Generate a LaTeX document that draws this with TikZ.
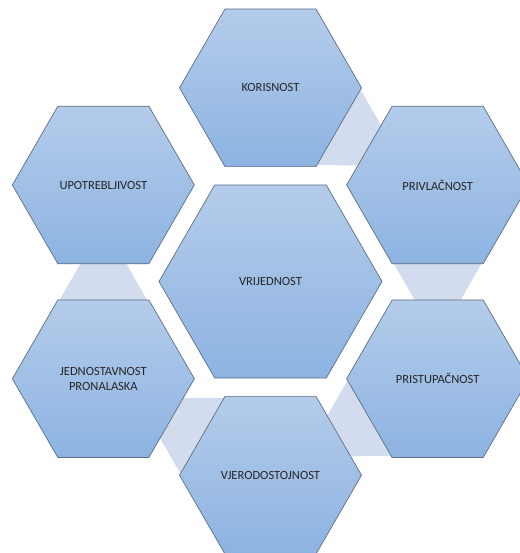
\documentclass[tikz,border=0pt]{standalone}
\usepackage{fontspec}
\setmainfont{Carlito}
\usetikzlibrary{shapes.geometric}
\usetikzlibrary{positioning}
\usetikzlibrary{calc}
\usetikzlibrary{backgrounds}

\definecolor{hexline}{HTML}{5E6F82}
\definecolor{hextop}{HTML}{B4CCEA}
\definecolor{hexbottom}{HTML}{8DB3E2}
\definecolor{linkfill}{HTML}{D2DCEE}

\tikzset{
  hexa/.style={regular polygon, regular polygon sides=6, minimum size=182pt,
    inner sep=0pt, draw=hexline, line width=0.7pt,
    top color=hextop, bottom color=hexbottom,
    align=center, text=black!85, font=\fontsize{12.5}{14.5}\selectfont},
  bighexa/.style={hexa, minimum size=223pt},
  link/.style={fill=linkfill, draw=none},
}

\begin{document}
\begin{tikzpicture}
    \useasboundingbox (0,0) rectangle (519pt,-553pt);

    \node[bighexa] (val) at (270.5pt,-281.5pt) {VRIJEDNOST};
    \node[hexa, above=17.6pt of val] (kor) {KORISNOST};
    \node[hexa, below=17.6pt of val] (vjer) {VJERODOSTOJNOST};
    \node[hexa] (priv) at ($(val)+(30:193pt)$) {PRIVLAČNOST};
    \node[hexa, below=35.4pt of priv] (prist) {PRISTUPAČNOST};
    \node[hexa] (upot) at ($(val)+(150:193pt)$) {UPOTREBLJIVOST};
    \node[hexa, below=35.4pt of upot] (jedn) {JEDNOSTAVNOST\\PRONALASKA};

    % light wedges between neighbours
    \begin{scope}[on background layer]
      \foreach \src/\tgt in {kor/priv, priv/prist, prist/vjer, vjer/jedn, jedn/upot}
        \fill[link] ($(\src)!89pt!90:(\tgt)$) -- ($(\src)!0.8!(\tgt)$)
          -- ($(\src)!89pt!-90:(\tgt)$) -- cycle;
    \end{scope}
\end{tikzpicture}
\end{document}
